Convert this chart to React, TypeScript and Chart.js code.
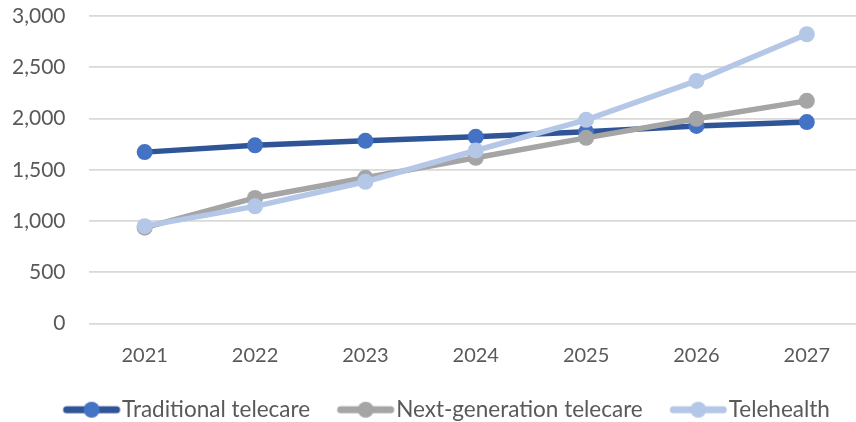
import React, { useEffect, useRef } from "react";
import { Chart, registerables } from "chart.js";

Chart.register(...registerables);

const years = ["2021", "2022", "2023", "2024", "2025", "2026", "2027"];
const traditional = [1672, 1738, 1782, 1821, 1870, 1928, 1965];
const nextGen = [935, 1225, 1422, 1617, 1811, 1997, 2172];
const telehealth = [950, 1143, 1383, 1688, 1987, 2367, 2822];
const seriesNames = ["Traditional telecare", "Next-generation telecare", "Telehealth"];
const yTicks = [0, 500, 1000, 1500, 2000, 2500, 3000];

const FONT = "Lato, 'Open Sans', sans-serif";
const LEGEND_SIZE = 22.5;
const BOX_W = 47.75;

function legendIcon(line: string, point: string): HTMLCanvasElement {
  const half = 57 - BOX_W / 2 + 1;
  const c = document.createElement("canvas");
  c.width = Math.ceil(half * 2);
  c.height = 18;
  const ctx = c.getContext("2d")!;
  const cx = c.width / 2;
  const x0 = cx - BOX_W / 2;
  const x1 = x0 + 57;
  ctx.strokeStyle = line;
  ctx.lineWidth = 7;
  ctx.lineCap = "round";
  ctx.beginPath();
  ctx.moveTo(x0 + 3.5, 9);
  ctx.lineTo(x1 - 3.5, 9);
  ctx.stroke();
  ctx.fillStyle = point;
  ctx.beginPath();
  ctx.arc((x0 + x1) / 2, 9, 8, 0, Math.PI * 2);
  ctx.fill();
  return c;
}

const legendShift = {
  id: "legendShift",
  afterLayout(chart: any) {
    if (chart.legend) chart.legend.left += 18;
  },
};

export default function App() {
  const ref = useRef<HTMLCanvasElement>(null);
  useEffect(() => {
    const lineColors = ["#2F5597", "#A5A5A5", "#B4C7E7"];
    const pointColors = ["#4472C4", "#A5A5A5", "#B4C7E7"];
    const values = [traditional, nextGen, telehealth];
    const chart = new Chart(ref.current!, {
      type: "line",
      data: {
        labels: years,
        datasets: values.map((v, i) => ({
          label: seriesNames[i],
          data: v,
          order: values.length - 1 - i,
          borderColor: lineColors[i],
          backgroundColor: pointColors[i],
          pointBackgroundColor: pointColors[i],
          pointBorderColor: pointColors[i],
          borderWidth: 5.5,
          pointRadius: 8,
          pointBorderWidth: 0,
          tension: 0,
        })),
      },
      plugins: [legendShift],
      options: {
        animation: false,
        responsive: false,
        layout: { padding: { left: 12, right: 7, top: 0, bottom: 1 } },
        scales: {
          x: {
            offset: true,
            grid: { display: false, drawTicks: false },
            border: { display: false },
            ticks: { color: "#595959", font: { family: FONT, size: 20 }, padding: 20 },
            afterFit: (a: any) => {
              a.height -= 16;
            },
          },
          y: {
            min: 0,
            max: 3000,
            afterBuildTicks: (axis: any) => {
              axis.ticks = yTicks.map((v) => ({ value: v }));
            },
            afterFit: (a: any) => {
              a.width -= 24;
              a.paddingTop = 16;
            },
            grid: { color: "#D9D9D9", lineWidth: 1.8, drawTicks: false },
            border: { display: false },
            ticks: {
              color: "#595959",
              font: { family: FONT, size: 21 },
              padding: 24,
              callback: (v: any) => Number(v).toLocaleString("en-US"),
            },
          },
        },
        plugins: {
          tooltip: { enabled: false },
          legend: {
            position: "bottom",
            labels: {
              color: "#595959",
              font: { family: FONT, size: LEGEND_SIZE },
              usePointStyle: true,
              pointStyleWidth: BOX_W,
              padding: 27,
              generateLabels: (ch: any) =>
                ch.data.datasets.map((d: any, i: number) => ({
                  text: d.label,
                  datasetIndex: i,
                  fontColor: "#595959",
                  pointStyle: legendIcon(lineColors[i], pointColors[i]),
                  lineWidth: 0,
                  strokeStyle: "transparent",
                  fillStyle: "transparent",
                })),
            },
          },
        },
      },
    });
    return () => chart.destroy();
  }, []);
  return (
    <div style={{ position: "fixed", left: 0, top: 0, width: 856, height: 422, overflow: "hidden", background: "#fff" }}>
      <canvas ref={ref} width={870} height={432} style={{ width: 870, height: 432, display: "block" }} />
    </div>
  );
}
